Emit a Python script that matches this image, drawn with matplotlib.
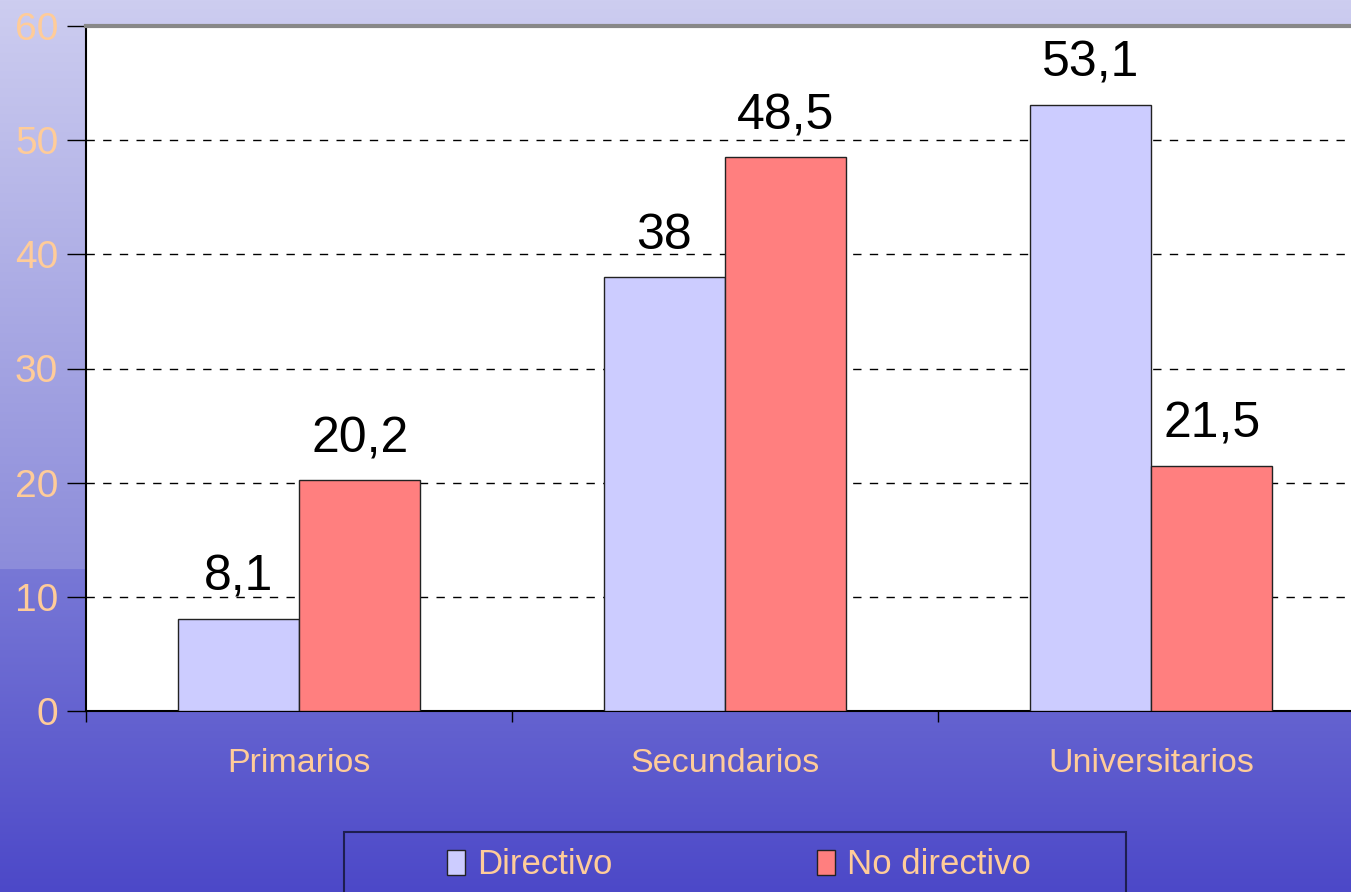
import matplotlib
matplotlib.use('Agg')
import matplotlib.pyplot as plt
import numpy as np
from matplotlib.patches import Rectangle, Patch

# data
categories = ['Primarios', 'Secundarios', 'Universitarios']
series_names = ['Directivo', 'No directivo']
directivo = [8.1, 38, 53.1]
no_directivo = [20.2, 48.5, 21.5]
y_ticks = [0, 10, 20, 30, 40, 50, 60]

W, H = 1351, 892
peach = '#FFCC99'
bar_colors = ['#CCCCFF', '#FF7F7F']

plt.rcParams['font.family'] = ['Liberation Sans', 'DejaVu Sans']

fig = plt.figure(figsize=(W / 100, H / 100), dpi=100)

# gradient background over the whole figure (with the step near y=570)
bg = fig.add_axes([0, 0, 1, 1], zorder=-10)
rows = np.arange(H)[:, None]
c_top = np.array([205, 205, 240])
c_mid1 = np.array([140, 140, 218])
c_mid2 = np.array([120, 120, 214])
c_bot = np.array([76, 72, 200])
split = 569
t1 = np.clip(rows / split, 0, 1)
t2 = np.clip((rows - split) / (H - split), 0, 1)
grad = np.where(rows < split, c_top * (1 - t1) + c_mid1 * t1,
                c_mid2 * (1 - t2) + c_bot * t2) / 255
bg.imshow(grad[:, None, :], aspect='auto', extent=[0, 1, 0, 1])
bg.axis('off')

# plot area: x from 86 px to 1364 px (past the right edge), y from 26 to 711
x0, x1 = 86, 1364
y0, y1 = 26, 711
ax = fig.add_axes([x0 / W, 1 - y1 / H, (x1 - x0) / W, (y1 - y0) / H])
ax.set_facecolor('white')

centers = np.arange(len(categories)) + 0.5
bw = 0.285
bars1 = ax.bar(centers - bw / 2, directivo, bw, color=bar_colors[0],
               edgecolor='#222222', linewidth=1, zorder=3)
bars2 = ax.bar(centers + bw / 2, no_directivo, bw, color=bar_colors[1],
               edgecolor='#222222', linewidth=1, zorder=3)

for bars, vals in ((bars1, directivo), (bars2, no_directivo)):
    for b, v in zip(bars, vals):
        txt = ('%g' % v).replace('.', ',')
        ax.annotate(txt, (b.get_x() + b.get_width() / 2, v),
                    xytext=(0, 18), textcoords='offset pixels',
                    ha='center', va='bottom', fontsize=36, color='black')

ax.set_xlim(0, 3)
ax.set_ylim(0, 60)
ax.set_yticks(y_ticks)
ax.set_yticklabels([str(v) for v in y_ticks], color=peach, fontsize=28)
ax.tick_params(axis='y', length=14, width=1, pad=6, color='black')

ax.set_xticks([0, 1, 2, 3])
ax.set_xticklabels([])
ax.set_xticks(centers, minor=True)
ax.set_xticklabels(categories, minor=True, color=peach, fontsize=24.5)
ax.tick_params(axis='x', which='major', length=8, width=1, color='black')
ax.tick_params(axis='x', which='minor', length=0, pad=27)

ax.yaxis.grid(True, linestyle=(0, (6, 6)), color='black', linewidth=1)
ax.set_axisbelow(True)

ax.spines['right'].set_visible(False)
ax.spines['top'].set_color('#888888')
ax.spines['top'].set_linewidth(3)
ax.spines['left'].set_linewidth(1.5)
ax.spines['bottom'].set_linewidth(1.5)

# legend box at the bottom
fig.patches.append(Rectangle((344 / W, -0.05), (1126 - 344) / W, (892 - 832) / H + 0.05,
                             transform=fig.transFigure, facecolor='none',
                             edgecolor='#1e1e50', linewidth=1.5))
handles = [Patch(facecolor=c, edgecolor='#222222', linewidth=1) for c in bar_colors]
leg = fig.legend(handles, series_names, loc='center', ncol=2,
                 bbox_to_anchor=(739 / W, 1 - 865 / H),
                 frameon=False, fontsize=25, labelcolor=peach,
                 handlelength=0.5, handleheight=0.75, handletextpad=0.35,
                 columnspacing=5.9)

fig.savefig('out.png', dpi=100)
